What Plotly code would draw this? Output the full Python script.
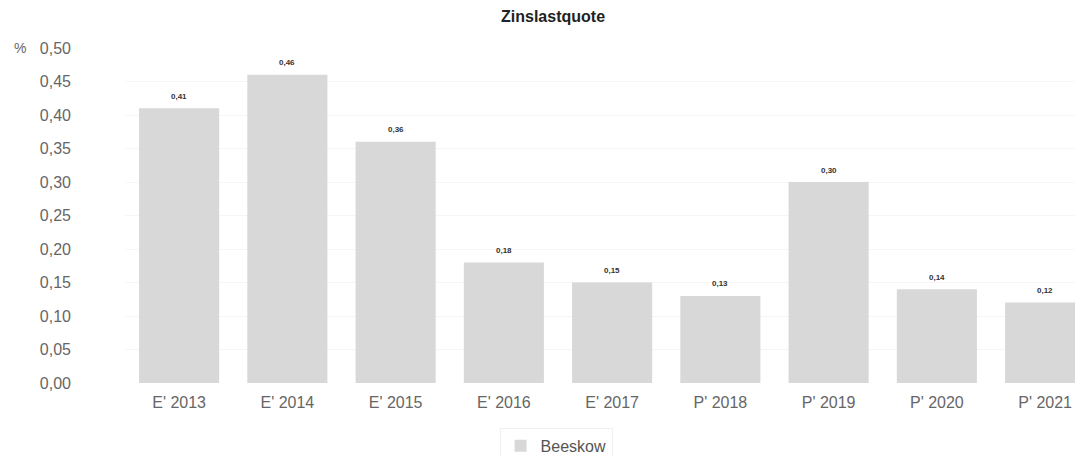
import plotly.graph_objects as go

# Zinslastquote Beeskow

jahre = ["E' 2013", "E' 2014", "E' 2015", "E' 2016", "E' 2017",
         "P' 2018", "P' 2019", "P' 2020", "P' 2021"]
quote = [0.41, 0.46, 0.36, 0.18, 0.15, 0.13, 0.30, 0.14, 0.12]
yticks = [0.00, 0.05, 0.10, 0.15, 0.20, 0.25, 0.30, 0.35, 0.40, 0.45, 0.50]

fig = go.Figure()
fig.add_trace(go.Bar(
    x=jahre, y=quote, name='Beeskow', width=0.74,
    marker=dict(color='#d8d8d8', line=dict(width=0)),
    showlegend=True
))

# Werte ueber den Balken
for j, q in zip(jahre, quote):
    fig.add_annotation(x=j, y=q, text='<b>' + f'{q:.2f}'.replace('.', ',') + '</b>',
                       showarrow=False, yanchor='middle', yshift=12,
                       font=dict(size=8, color='#333333'))

fig.update_layout(
    width=1075, height=448,
    margin=dict(l=117, r=0, t=40, b=73, autoexpand=False),
    paper_bgcolor='white', plot_bgcolor='white',
    separators=',.',
    font=dict(family='Liberation Sans, Arial, sans-serif', color='#666666', size=16),
    title=dict(text='<b>Zinslastquote</b>', x=0.507, xref='container', xanchor='center',
               y=0.993, yanchor='top', font=dict(size=16, color='#222222')),
    xaxis=dict(range=[-0.5, 8.35], showline=False, ticks='', ticklabelstandoff=8,
               tickfont=dict(size=16, color='#666666'), showgrid=False),
    yaxis=dict(range=[0, 0.5], tickvals=yticks, tickformat='.2f', showgrid=True,
               gridcolor='#f5f5f5', zeroline=False, showline=False, ticks='',
               ticklabelstandoff=53, tickfont=dict(size=16, color='#666666')),
    legend=dict(orientation='h', x=0.45, xanchor='center', y=-0.134, yanchor='top',
                itemwidth=30, bordercolor='#f0f0f0', borderwidth=1,
                font=dict(size=16, color='#555555')),
    bargap=0.26
)
fig.add_annotation(text='%', xref='paper', yref='paper', x=-0.118, y=1.0, xanchor='left',
                   yanchor='middle', showarrow=False, font=dict(size=14, color='#666666'))

fig.write_html("out.html")
